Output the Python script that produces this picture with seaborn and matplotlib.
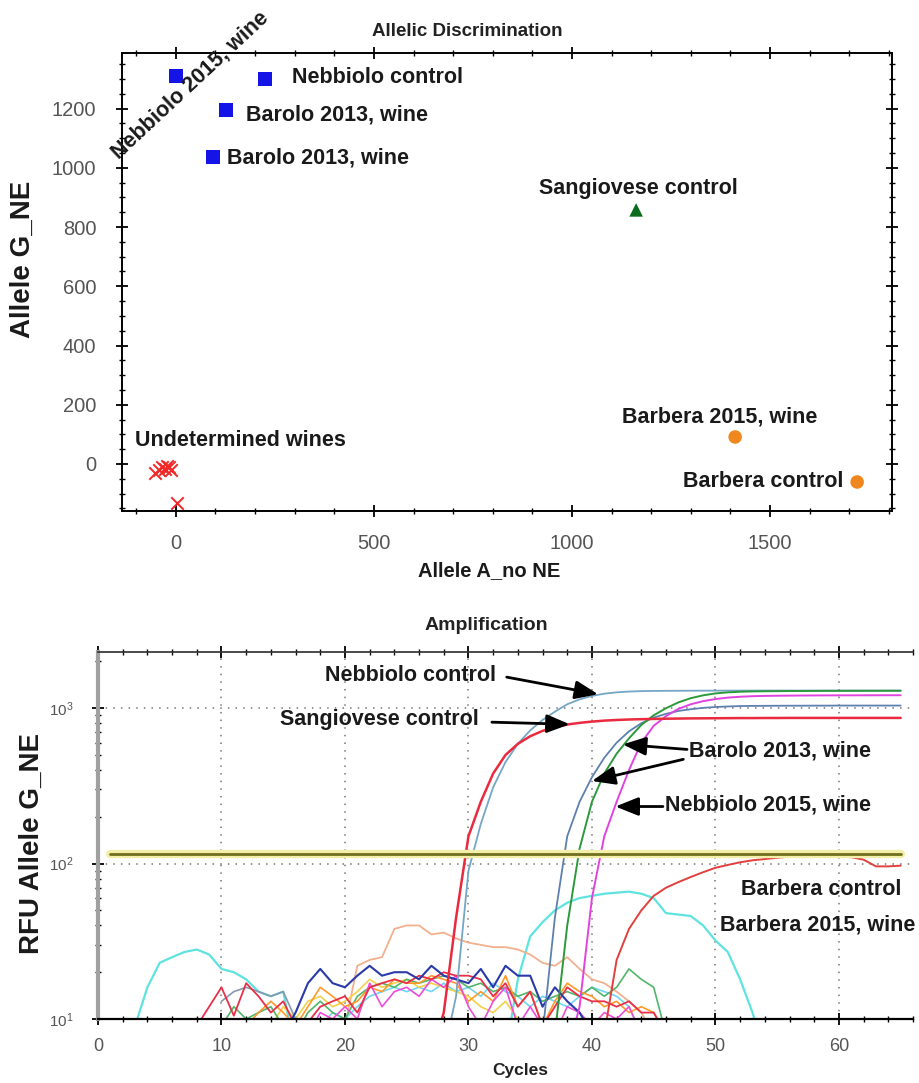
import pandas as pd
import seaborn as sns
import matplotlib.pyplot as plt
from matplotlib.ticker import MultipleLocator, LogLocator, NullFormatter

# ---------------- allelic discrimination (end-point RFU) ----------------
nebbiolo_a = [0, 225, 126, 94]          # Nebbiolo 2015 wine, Nebbiolo ctrl, Barolo, Barolo
nebbiolo_g = [1310, 1300, 1196, 1037]
sangiovese_a = [1162]
sangiovese_g = [858]
barbera_a = [1412, 1720]                # Barbera 2015 wine, Barbera control
barbera_g = [91, -61]
undet_a = [-52, -42, -34, -28, -22, -17, -12, 2]
undet_g = [-30, -22, -12, -18, -6, -10, -20, -132]

# ---------------- amplification curves (RFU per cycle) ----------------
# each series: first cycle + values up to the last plotted cycle
sangio_start = 27
sangio_rfu = [6, 11, 45, 150, 250, 380, 500, 590, 660, 715,
              755, 785, 805, 820, 832, 840, 846, 850, 853, 856,
              858, 860, 861, 862, 863, 864, 864, 865, 865, 866,
              866, 866, 866, 866, 866, 866, 866, 866, 866]
nebctrl_start = 28
nebctrl_rfu = [6, 14, 90, 180, 310, 450, 590, 720, 840, 950,
               1060, 1140, 1200, 1240, 1265, 1280, 1288, 1292, 1294, 1295,
               1296, 1297, 1297, 1298, 1298, 1298, 1299, 1299, 1299, 1299,
               1299, 1299, 1299, 1299, 1299, 1299, 1299, 1299]
barolo1_start = 36
barolo1_rfu = [8, 45, 150, 250, 360, 480, 600, 710, 800, 870,
               920, 960, 985, 1005, 1018, 1026, 1032, 1035, 1036, 1037,
               1038, 1038, 1039, 1039, 1040, 1040, 1040, 1040, 1040, 1040]
barolo2_start = 37
barolo2_rfu = [8, 40, 125, 250, 380, 510, 640, 780, 900, 1000,
               1090, 1160, 1210, 1245, 1265, 1277, 1283, 1286, 1288, 1290,
               1291, 1292, 1293, 1293, 1294, 1294, 1294, 1295, 1295]
neb15_start = 38
neb15_rfu = [6, 12, 60, 150, 250, 400, 600, 770, 890, 990,
             1060, 1110, 1145, 1170, 1185, 1195, 1200, 1203, 1205, 1207,
             1208, 1209, 1210, 1210, 1211, 1211, 1212, 1212]
barbctrl_start = 41
barbctrl_rfu = [8, 24, 38, 50, 62, 70, 76, 82, 88, 94,
                98, 102, 105, 107, 109, 111, 112, 113, 112, 111,
                110, 106, 96, 96, 97]
cyan_start = 3
cyan_rfu = [9, 16, 23, 25, 27, 28, 26, 21, 20, 18,
            15, 14, 15, 6, 5, 5, 5, 5, 5, 5,
            5, 5, 5, 5, 5, 5, 5, 5, 5, 5,
            6, 18, 34, 42, 50, 56, 60, 62, 64, 65,
            66, 64, 60, 48, 47, 46, 40, 32, 27, 18,
            11, 6]
salmon_start = 20
salmon_rfu = [9, 22, 24, 25, 38, 40, 40, 35, 36, 33,
              31, 30, 29, 29, 28, 26, 23, 22, 25, 21,
              18, 17, 15, 13, 11, 8]
navy_start = 15
navy_rfu = [8, 11, 17, 21, 17, 16, 19, 22, 19, 20,
            20, 18, 22, 19, 18, 17, 21, 16, 22, 19,
            19, 12, 16, 13, 11, 8]
rednoise_start = 8
rednoise_rfu = [9, 12, 16, 10.5, 17, 14, 11, 13, 9, 9.5,
                12, 13, 14, 11, 16, 17, 18, 17, 19, 18,
                20, 19, 19, 18, 14, 17, 12, 15, 9, 12,
                16, 14, 13, 13, 12, 13, 11, 11, 8]
pink_start = 17
pink_rfu = [8, 11, 10, 12, 10, 17, 12, 15, 16, 14,
            18, 16, 19, 12, 9, 13, 16, 9, 12, 9,
            8, 12, 11, 9, 11, 10, 12, 8]
orange_start = 12
orange_rfu = [9, 11, 13, 11, 9, 12, 16, 14, 12, 13,
              16, 15, 18, 17, 17, 19, 18, 17, 13, 15,
              13, 19, 12, 15, 9, 13, 17, 15, 14, 12,
              13, 11, 12, 11, 8]
yellow_start = 14
yellow_rfu = [9, 12, 10, 13, 14, 12, 13, 15, 18, 16,
              17, 18, 16, 17, 16, 15, 14, 12, 11, 13,
              10, 8]
green_start = 10
green_rfu = [9, 12, 10, 11, 12, 9, 8, 11, 13, 11,
             10, 14, 16, 17, 16, 18, 17, 18, 19, 18,
             16, 17, 15, 16, 14, 15, 13, 14, 15, 14,
             16, 14, 16, 21, 18, 16, 8]
grey_start = 10
grey_rfu = [13, 15, 16, 15, 14, 15, 10, 8]
ltcyan_start = 18
ltcyan_rfu = [9, 11, 10, 12, 14, 15, 16, 15, 16, 15,
              17, 15, 16, 14, 17, 15, 14, 12, 14, 13,
              12, 14, 16, 15, 14, 12, 8]

threshold_rfu = 116
threshold_cycles = [1, 65]

# ---------------- figure ----------------
sns.set_theme(style="white")
plt.rcParams['font.family'] = ['Liberation Sans', 'DejaVu Sans']
plt.rcParams['mathtext.default'] = 'regular'

W, H = 919, 1083
fig = plt.figure(figsize=(W / 100, H / 100), dpi=100)

def px_box(l, t, r, b):
    return [l / W, 1 - b / H, (r - l) / W, (b - t) / H]

ax1 = fig.add_axes(px_box(122, 53, 892, 511))
ax2 = fig.add_axes(px_box(98, 652, 913, 1019))

lbl = dict(fontsize=15.5, fontweight='bold', color='#1a1a1a')

# ---- top: allelic discrimination scatter ----
sns.scatterplot(x=nebbiolo_a, y=nebbiolo_g, marker='s', s=95, color='#1414e6',
                edgecolor='none', ax=ax1)
sns.scatterplot(x=sangiovese_a, y=sangiovese_g, marker='^', s=95, color='#0b6b1b',
                edgecolor='none', ax=ax1)
sns.scatterplot(x=barbera_a, y=barbera_g, marker='o', s=95, color='#f0861e',
                edgecolor='none', ax=ax1)
sns.scatterplot(x=undet_a, y=undet_g, marker='x', s=80, color='#f02828',
                linewidth=1.4, ax=ax1)

ax1.set_xlim(-136, 1808)
ax1.set_ylim(-159, 1388)
ax1.xaxis.set_major_locator(MultipleLocator(500))
ax1.xaxis.set_minor_locator(MultipleLocator(100))
ax1.yaxis.set_major_locator(MultipleLocator(200))
ax1.yaxis.set_minor_locator(MultipleLocator(50))
ax1.tick_params(which='both', direction='inout', top=True, right=True,
                bottom=True, left=True,
                colors='black', labelcolor='#555555', labelsize=14.5)
ax1.tick_params(which='major', length=9, width=1.3)
ax1.tick_params(which='minor', length=5, width=1.0)
ax1.tick_params(axis='y', pad=14)
ax1.tick_params(axis='x', pad=12)
for sp in ax1.spines.values():
    sp.set_color('black')
    sp.set_linewidth(1.4)
ax1.set_xlabel('')
ax1.set_ylabel('')

ax1.text(293, 1304, 'Nebbiolo control', ha='left', va='center', **lbl)
ax1.text(177, 1179, 'Barolo 2013, wine', ha='left', va='center', **lbl)
ax1.text(129, 1034, 'Barolo 2013, wine', ha='left', va='center', **lbl)
ax1.text(1167, 932, 'Sangiovese control', ha='center', va='center', **lbl)
ax1.text(1374, 159, 'Barbera 2015, wine', ha='center', va='center', **lbl)
ax1.text(1684, -61, 'Barbera control', ha='right', va='center', **lbl)
ax1.text(-104, 78, 'Undetermined wines', ha='left', va='center', **lbl)
ax1.text(35, 1280, 'Nebbiolo 2015, wine', ha='center', va='center', rotation=43,
         rotation_mode='anchor', clip_on=False, **lbl)

fig.text(467 / W, 1 - 32 / H, 'Allelic Discrimination', ha='center', va='center',
         fontsize=13.5, fontweight='bold', color='#222222')
fig.text(489 / W, 1 - 571 / H, 'Allele A_no NE', ha='center', va='center',
         fontsize=14.5, fontweight='bold', color='#1a1a1a')
fig.text(23 / W, 1 - 259 / H, 'Allele G_NE', ha='center', va='center', rotation=90,
         fontsize=20, fontweight='bold', color='#1a1a1a')

# ---- bottom: amplification curves ----
series = [
    (cyan_start, cyan_rfu, '#5ee3e0', 1.6),
    (salmon_start, salmon_rfu, '#f2b08e', 1.3),
    (ltcyan_start, ltcyan_rfu, '#6fd6f0', 1.2),
    (yellow_start, yellow_rfu, '#f0d24a', 1.2),
    (green_start, green_rfu, '#52b56a', 1.2),
    (grey_start, grey_rfu, '#8a96b0', 1.2),
    (orange_start, orange_rfu, '#ff9a2a', 1.2),
    (pink_start, pink_rfu, '#f04cd8', 1.2),
    (rednoise_start, rednoise_rfu, '#e8304a', 1.3),
    (navy_start, navy_rfu, '#2a3aa8', 1.5),
    (barbctrl_start, barbctrl_rfu, '#e2403c', 1.4),
    (nebctrl_start, nebctrl_rfu, '#74a6c6', 1.3),
    (barolo1_start, barolo1_rfu, '#5d80ad', 1.3),
    (barolo2_start, barolo2_rfu, '#2c9a3c', 1.4),
    (neb15_start, neb15_rfu, '#e043e0', 1.4),
    (sangio_start, sangio_rfu, '#ea2a3e', 1.8),
]
for start, vals, col, lw in series:
    df = pd.DataFrame({'cycle': range(start, start + len(vals)), 'rfu': vals})
    sns.lineplot(data=df, x='cycle', y='rfu', color=col, linewidth=lw,
                 estimator=None, sort=False, ax=ax2)

thr = pd.DataFrame({'cycle': threshold_cycles, 'rfu': [threshold_rfu] * 2})
sns.lineplot(data=thr, x='cycle', y='rfu', color='#f3efaa', linewidth=6, ax=ax2)
sns.lineplot(data=thr, x='cycle', y='rfu', color='#6f6f1c', linewidth=2, ax=ax2)

ax2.set_yscale('log')
ax2.set_xlim(0, 66)
ax2.set_ylim(10, 2300)
ax2.xaxis.set_major_locator(MultipleLocator(10))
ax2.xaxis.set_minor_locator(MultipleLocator(2))
ax2.yaxis.set_major_locator(LogLocator(base=10))
ax2.yaxis.set_minor_locator(LogLocator(base=10, subs=range(2, 10)))
ax2.yaxis.set_minor_formatter(NullFormatter())
ax2.grid(True, which='major', linestyle=(0, (1, 4)), color='#777777', linewidth=1.1)
ax2.tick_params(which='both', direction='inout', top=True, right=False,
                bottom=True, left=True,
                colors='black', labelcolor='#555555')
ax2.tick_params(which='major', length=9, width=1.3)
ax2.tick_params(which='minor', length=5, width=1.0)
ax2.tick_params(axis='x', labelsize=13, pad=9)
ax2.tick_params(axis='y', labelsize=11, pad=13)
ax2.spines['right'].set_visible(False)
ax2.spines['top'].set_color('#333333')
ax2.spines['bottom'].set_color('black')
ax2.spines['bottom'].set_linewidth(1.6)
ax2.spines['left'].set_color('#a0a0a0')
ax2.spines['left'].set_linewidth(3)
ax2.set_xlabel('')
ax2.set_ylabel('')

arrow = dict(arrowstyle='-|>,head_length=0.7,head_width=0.28', color='black',
             lw=2, mutation_scale=20, shrinkA=0, shrinkB=0)
ax2.text(25.3, 1633, 'Nebbiolo control', ha='center', va='center', **lbl)
ax2.annotate('', xy=(40.5, 1230), xytext=(33.1, 1585), arrowprops=arrow)
ax2.text(22.75, 849, 'Sangiovese control', ha='center', va='center', **lbl)
ax2.annotate('', xy=(38.2, 788), xytext=(31.9, 813), arrowprops=arrow)
ax2.text(55.2, 528, 'Barolo 2013, wine', ha='center', va='center', **lbl)
ax2.annotate('', xy=(42.5, 585), xytext=(47.7, 543), arrowprops=arrow)
ax2.annotate('', xy=(40.0, 340), xytext=(47.4, 469), arrowprops=arrow)
ax2.text(54.25, 237, 'Nebbiolo 2015, wine', ha='center', va='center', **lbl)
ax2.annotate('', xy=(41.9, 233), xytext=(45.75, 233), arrowprops=arrow)
ax2.text(58.6, 68, 'Barbera control', ha='center', va='center', **lbl)
ax2.text(58.3, 40, 'Barbera 2015, wine', ha='center', va='center', **lbl)

fig.text(486 / W, 1 - 626 / H, 'Amplification', ha='center', va='center',
         fontsize=14, fontweight='bold', color='#222222')
fig.text(520 / W, 1 - 1070 / H, 'Cycles', ha='center', va='center',
         fontsize=12.5, fontweight='bold', color='#222222')
fig.text(32 / W, 1 - 843 / H, 'RFU Allele G_NE', ha='center', va='center', rotation=90,
         fontsize=20, fontweight='bold', color='#1a1a1a')

fig.savefig('out.png', dpi=100, facecolor='white')
